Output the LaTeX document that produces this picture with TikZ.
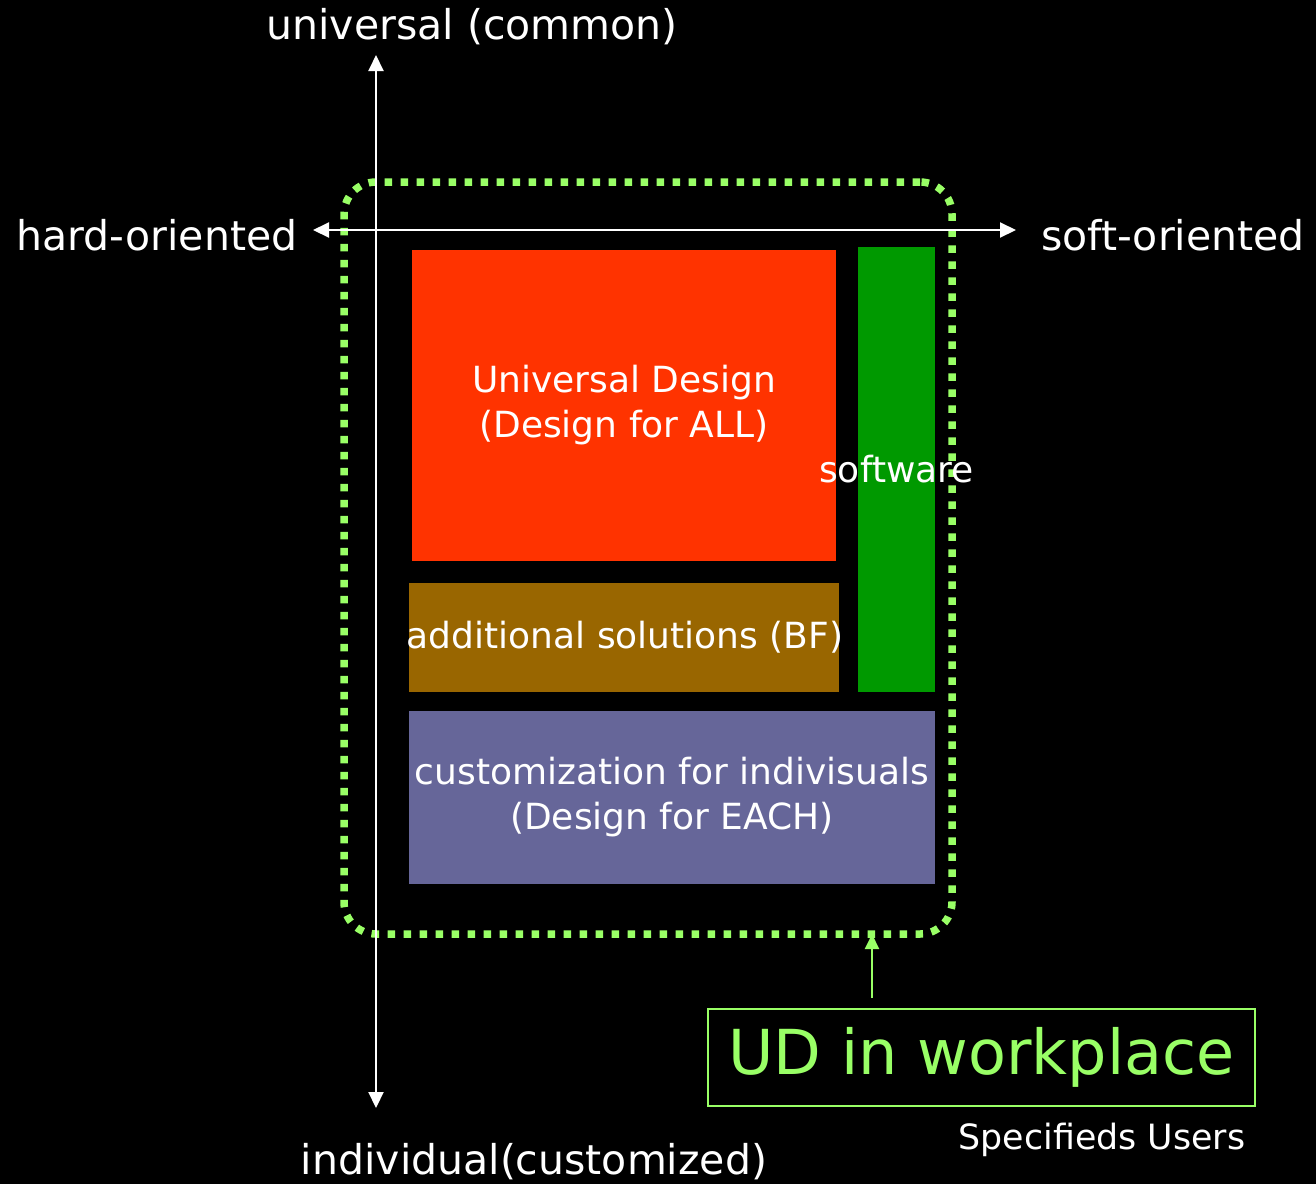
\documentclass[tikz,border=0pt]{standalone}
\usepackage{fontspec}
\setmainfont{DejaVu Sans}
\usetikzlibrary{arrows.meta}

\definecolor{udred}{HTML}{FF3300}
\definecolor{swgreen}{HTML}{009900}
\definecolor{bfbrown}{HTML}{996600}
\definecolor{eachblue}{HTML}{666699}
\definecolor{lime}{HTML}{99FF66}

\begin{document}
\begin{tikzpicture}[x=0.5pt,y=-0.5pt,
	box/.style={inner sep=0pt,outer sep=0pt,align=center,text=white,
		font=\fontsize{18}{22.5}\selectfont},
	axis/.style={white,line width=1pt,
		{Triangle[length=8pt,width=7.5pt]}-{Triangle[length=8pt,width=7.5pt]}},
	axislabel/.style={text=white,inner sep=0pt,font=\fontsize{20.5}{24}\selectfont}]

	% background
	\fill[black] (0,0) rectangle (1316,1184);

	% workplace area
	\node[draw=lime,line width=3.75pt,dash pattern=on 3.75pt off 4.25pt,
		rounded corners=16pt,inner sep=0pt,outer sep=0pt,
		minimum width=304pt,minimum height=376pt] (area) at (648,558) {};

	% axes
	\coordinate (up) at (376,55);
	\coordinate (down) at (376,1108);
	\coordinate (left) at (313,230);
	\coordinate (right) at (1016,230);
	\draw[axis] (down) -- (up);
	\draw[axis] (left) -- (right);

	% axis labels
	\node[axislabel] (common) at (472,27) {universal (common)};
	\node[axislabel] (hard) at (157,235) {hard-oriented};
	\node[axislabel] (soft) at (1173,235) {soft-oriented};
	\node[axislabel] (custom) at (534,1162) {individual(customized)};

	% solutions
	\node[box,fill=udred,minimum width=212pt,minimum height=155.5pt] (all)
		at (624,405.5) {Universal Design\\(Design for ALL)};
	\node[box,fill=swgreen,minimum width=38.5pt,minimum height=222.5pt,
		label={[box]center:software}] (sw) at (896.5,469.5) {};
	\node[box,fill=bfbrown,minimum width=215pt,minimum height=54.5pt,
		label={[box,xshift=0.5pt]center:additional solutions (BF)}] (bf) at (624,637.5) {};
	\node[box,fill=eachblue,minimum width=263pt,minimum height=86.5pt] (each)
		at (672,797.5) {customization for indivisuals\\(Design for EACH)};

	% workplace label
	\node[draw=lime,line width=1pt,inner sep=0pt,outer sep=0pt,text=lime,
		font=\fontsize{31}{36}\selectfont,
		minimum width=273.5pt,minimum height=48.5pt] (wp) at (981.5,1057.5) {UD in workplace};
	\draw[lime,line width=1pt,-{Triangle[length=7.5pt,width=7pt]}]
		([xshift=-54.75pt,yshift=5.5pt]wp.north) -- ([xshift=-54.75pt]wp.north |- area.south);
	\node[axislabel,font=\fontsize{17.4}{20}\selectfont] (users) at (1102,1140) {Specifieds Users};

\end{tikzpicture}
\end{document}
